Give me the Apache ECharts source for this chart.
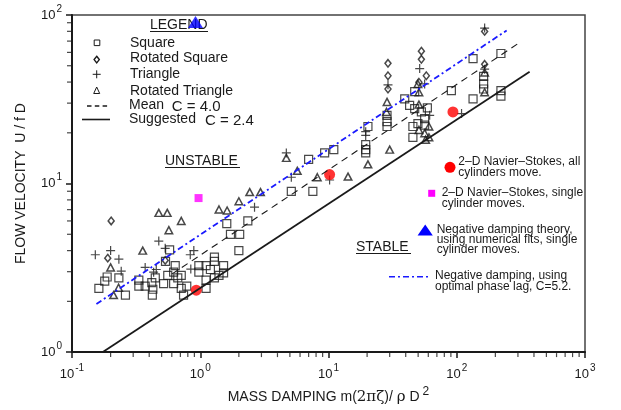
<!DOCTYPE html>
<html>
<head>
<meta charset="utf-8">
<title>Flow velocity vs mass damping</title>
<script src="https://cdn.jsdelivr.net/npm/echarts@6/dist/echarts.min.js"></script>
<style>
  html, body { margin: 0; padding: 0; background: #fff; }
  #main { width: 621px; height: 410px; }
</style>
</head>
<body>
<div id="main"></div>
<script>
// values (log-log)
var squareX = [0.162, 0.180, 0.188, 0.232, 0.261, 0.332, 0.332, 0.372, 0.419, 0.427, 0.423, 0.446, 0.518, 0.536, 0.558, 0.620,
  0.638, 0.620, 0.668, 0.711, 0.711, 0.741, 0.785, 0.577, 0.975, 0.975, 1.11, 1.11, 1.11, 1.20, 1.29, 1.29, 1.29, 1.40,
  1.52, 1.52, 1.61, 1.72, 2.03, 2.00, 2.35, 5.13, 7.55, 7.0, 9.33, 11.0, 20.3, 19.5, 19.5, 19.5, 28.6, 28.6, 28.6,
  39.3, 42.9, 47.0, 47.0, 59.0, 53.0, 56.2, 49.8, 45.5, 56.2, 45.5, 90.8, 134, 134, 162, 162, 162, 221, 221, 221];
var squareY = [2.39, 2.64, 2.79, 2.76, 2.18, 2.67, 2.46, 2.46, 2.58, 2.36, 2.18, 2.76, 2.55, 3.45, 2.85, 2.98,
  3.26, 2.55, 2.76, 2.85, 2.39, 2.18, 2.46, 4.04, 3.26, 2.98, 3.26, 2.67, 2.39, 3.09, 3.66, 3.45, 2.76, 2.85,
  3.26, 2.95, 5.78, 4.99, 4.99, 4.00, 6.00, 8.98, 8.98, 13.9, 15.2, 15.9, 21.8, 17.0, 15.9, 15.2, 25.4, 23.3, 21.8,
  31.8, 29.1, 27.8, 35.1, 28.1, 26.6, 24.3, 22.7, 21.8, 22.2, 18.8, 35.6, 55.1, 31.8, 43.2, 39.0, 36.4, 59.1, 35.6, 33.0];

var rotSquareX = [0.202, 0.190, 0.533, 29.1, 29.1, 29.1, 53.0, 53.0, 57.9, 50.7, 165, 165];
var rotSquareY = [6.00, 3.61, 3.50, 51.7, 43.6, 36.4, 61.0, 54.6, 43.6, 39.9, 79.9, 51.0];

var triangleX = [0.152, 0.200, 0.232, 0.475, 0.533, 0.372, 0.433, 0.242, 0.836, 0.891, 0.844, 0.454, 2.65, 4.69, 5.13,
  10.2, 19.5, 19.5, 29.1, 51.4, 56.2, 61.5, 109, 165, 165];
var triangleY = [3.78, 4.00, 3.56, 4.56, 4.13, 3.18, 2.98, 3.02, 3.78, 4.00, 3.11, 3.09, 7.24, 15.2, 10.9,
  10.5, 20.3, 19.3, 38.5, 48.1, 39.0, 25.4, 26.0, 83.6, 47.7];

var rotTriangleX = [0.475, 0.553, 0.711, 0.569, 0.356, 0.200, 0.231, 0.211, 1.40, 1.62, 2.00, 2.43, 2.95, 4.69, 5.71,
  8.18, 14.2, 20.3, 30.0, 28.6, 28.3, 50.7, 50.7, 60.7, 50.7, 56.2, 57.2, 60.7, 49.8, 165, 165];
var rotTriangleY = [6.70, 6.70, 6.00, 5.29, 4.00, 3.18, 2.41, 2.18, 7.02, 6.92, 7.85, 8.90, 8.90, 14.2, 11.9,
  10.9, 11.0, 13.0, 15.9, 30.5, 26.6, 34.8, 29.4, 21.8, 20.8, 19.9, 18.2, 18.8, 39.0, 34.8, 45.6];

var nsAllX = [0.931, 10.2, 93.4];
var nsAllY = [2.33, 11.3, 26.6];
var nsSingleX = [0.970];
var nsSingleY = [8.20];
var negTheoryX = [0.918];
var negTheoryY = [91.0];

// straight lines, end points
var meanX = [0.60, 309];
var meanY = [2.9, 68.6];
var suggestedX = [0.174, 370];
var suggestedY = [1.0, 46];
var optimalX = [0.155, 245];
var optimalY = [1.93, 81];

// log axis minor ticks
var minorSteps = [2, 3, 4, 5, 6, 7, 8, 9];
var xDecades = [0.1, 1, 10, 100];
var yDecades = [1, 10];

function pairs(xs, ys) {
  return xs.map(function (x, i) { return [x, ys[i]]; });
}

var xMinor = [];
xDecades.forEach(function (d) {
  minorSteps.forEach(function (m) { xMinor.push([+(d * m).toPrecision(3), 1]); });
});
var yMinor = [];
yDecades.forEach(function (d) {
  minorSteps.forEach(function (m) { yMinor.push([0.1, d * m]); });
});

var ink = '#1a1a1a';
var blue = '#1a1aff';
var narrow = '"Liberation Sans Narrow", "Arial Narrow", "Liberation Sans", sans-serif';
var hollow = { color: 'rgba(0,0,0,0)', borderColor: ink, borderWidth: 1.2 };

function powLabel(v) {
  var e = Math.round(Math.log(v) / Math.LN10);
  return '{b|10}{e|' + e + '}';
}
var powRich = {
  b: { fontSize: 13, lineHeight: 22, color: ink },
  e: { fontSize: 10, verticalAlign: 'top', color: ink, padding: [0, 0, 0, 1] }
};

function txt(x, y, s, font, extra) {
  var st = { text: s, font: font, fill: ink, verticalAlign: 'middle' };
  for (var k in extra) st[k] = extra[k];
  return { type: 'text', x: x, y: y, style: st };
}
function hline(x1, x2, y, stroke, w, dash) {
  return { type: 'line', shape: { x1: x1, y1: y, x2: x2, y2: y },
    style: { stroke: stroke, lineWidth: w, lineDash: dash || null } };
}

var f14 = '14px "Liberation Sans", Arial, sans-serif';
var f15 = '15px "Liberation Sans", Arial, sans-serif';
var f12n = '12px ' + narrow;

var graphics = [
  txt(150, 25, 'LEGEND', f14), hline(150, 208, 31.5, ink, 1),
  txt(165, 160.7, 'UNSTABLE', f14), hline(165, 240, 167.5, ink, 1),
  txt(356, 247, 'STABLE', f14), hline(356, 411, 253.5, ink, 1),
  // left legend
  { type: 'rect', shape: { x: 94.2, y: 40, width: 5.6, height: 5.6 }, style: { fill: 'none', stroke: ink, lineWidth: 1 } },
  { type: 'polygon', shape: { points: [[96.7, 56.3], [99.3, 59.6], [96.7, 62.9], [94.1, 59.6]] }, style: { fill: 'none', stroke: ink, lineWidth: 1.4 } },
  { type: 'line', shape: { x1: 92.7, y1: 74.3, x2: 100.7, y2: 74.3 }, style: { stroke: ink, lineWidth: 1 } },
  { type: 'line', shape: { x1: 96.7, y1: 70.3, x2: 96.7, y2: 78.3 }, style: { stroke: ink, lineWidth: 1 } },
  { type: 'polygon', shape: { points: [[96.7, 87], [99.7, 93.5], [93.7, 93.5]] }, style: { fill: 'none', stroke: ink, lineWidth: 1 } },
  hline(87, 108, 106, ink, 1.3, [4.5, 3.3]),
  hline(82, 110, 119.5, ink, 1.6),
  txt(130, 42.7, 'Square', f14),
  txt(130, 58.3, 'Rotated Square', f14),
  txt(130, 74.3, 'Triangle', f14),
  txt(130, 90.7, 'Rotated Triangle', f14),
  txt(129, 105.3, 'Mean', f14),
  txt(171.7, 107, 'C = 4.0', f15),
  txt(129, 119, 'Suggested', f14),
  txt(205, 121, 'C = 2.4', f15),
  // right annotations
  { type: 'circle', shape: { cx: 450, cy: 167.3, r: 5.5 }, style: { fill: '#ff0000' } },
  txt(458.3, 156.2, '2\u2013D Navier\u2013Stokes, all\ncylinders move.', f12n, { verticalAlign: 'top', lineHeight: 11 }),
  { type: 'rect', shape: { x: 428.2, y: 189.8, width: 7, height: 7 }, style: { fill: '#ff00ff' } },
  txt(441.7, 187.2, '2\u2013D Navier\u2013Stokes, single\ncylinder moves.', f12n, { verticalAlign: 'top', lineHeight: 11 }),
  { type: 'polygon', shape: { points: [[425.2, 224.5], [432.8, 235.5], [417.6, 235.5]] }, style: { fill: '#0000ff' } },
  txt(436.7, 225, 'Negative damping theory,\nusing numerical fits, single\ncylinder moves.', f12n, { verticalAlign: 'top', lineHeight: 9.8 }),
  hline(389, 428, 276.7, blue, 1.6, [6, 3, 2, 3]),
  txt(435, 270.5, 'Negative damping, using\noptimal phase lag, C=5.2.', f12n, { verticalAlign: 'top', lineHeight: 10.5 })
];

var chart = echarts.init(document.getElementById('main'));
chart.setOption({
  animation: false,
  backgroundColor: '#fff',
  textStyle: { fontFamily: '"Liberation Sans", Arial, sans-serif', color: ink },
  grid: { left: 72, top: 15, width: 513, height: 342, show: true, borderColor: '#444', borderWidth: 1.5 },
  xAxis: {
    type: 'log', logBase: 10, min: 0.1, max: 1000, splitNumber: 4,
    name: '{a|MASS DAMPING m(}{g|2\u03c0\u03b6}{a|)/ }{g|\u03c1}{a| D}{s|2}',
    nameLocation: 'middle', nameGap: 30,
    nameTextStyle: { rich: {
      a: { fontSize: 14, lineHeight: 24, color: ink },
      g: { fontSize: 15, lineHeight: 24, color: ink, fontFamily: '"DejaVu Serif", serif' },
      s: { fontSize: 12, verticalAlign: 'top', color: ink, padding: [0, 0, 0, 3] }
    } },
    axisLine: { lineStyle: { color: ink, width: 2 } },
    axisTick: { length: 6, lineStyle: { color: ink, width: 1.5 } },
    splitLine: { show: false },
    axisLabel: { margin: 11, formatter: powLabel, rich: powRich }
  },
  yAxis: {
    type: 'log', logBase: 10, min: 1, max: 100, splitNumber: 2,
    name: 'FLOW VELOCITY  U / f D', nameLocation: 'middle', nameGap: 44, nameRotate: 90,
    nameTextStyle: { fontSize: 14, color: ink },
    axisLine: { lineStyle: { color: ink, width: 2 } },
    axisTick: { length: 6, lineStyle: { color: ink, width: 1.5 } },
    splitLine: { show: false },
    axisLabel: { margin: 10, formatter: powLabel, rich: powRich }
  },
  graphic: graphics,
  series: [
    { name: 'x minor ticks', type: 'scatter', silent: true, clip: false, data: xMinor,
      symbol: 'rect', symbolSize: [1.2, 4], symbolOffset: [0, 3], itemStyle: { color: ink } },
    { name: 'y minor ticks', type: 'scatter', silent: true, clip: false, data: yMinor,
      symbol: 'rect', symbolSize: [4, 1.2], symbolOffset: [-3, 0], itemStyle: { color: ink } },
    { name: 'Mean C = 4.0', type: 'line', data: pairs(meanX, meanY), showSymbol: false,
      lineStyle: { color: ink, width: 1.1, type: [7, 5] } },
    { name: 'Suggested C = 2.4', type: 'line', data: pairs(suggestedX, suggestedY), showSymbol: false,
      lineStyle: { color: ink, width: 1.8 } },
    { name: 'Negative damping, optimal phase lag C=5.2', type: 'line', data: pairs(optimalX, optimalY), showSymbol: false,
      lineStyle: { color: blue, width: 1.8, type: [6, 3, 2, 3] } },
    { name: 'Square', type: 'scatter', data: pairs(squareX, squareY),
      symbol: 'rect', symbolSize: 8, itemStyle: hollow },
    { name: 'Rotated Square', type: 'scatter', data: pairs(rotSquareX, rotSquareY),
      symbol: 'diamond', symbolSize: [6, 7.5], itemStyle: { color: 'rgba(0,0,0,0)', borderColor: ink, borderWidth: 1.5 } },
    { name: 'Triangle', type: 'scatter', data: pairs(triangleX, triangleY),
      symbol: 'path://M5,0L5,10M0,5L10,5', symbolSize: 9, itemStyle: { color: 'rgba(0,0,0,0)', borderColor: ink, borderWidth: 1.2 } },
    { name: 'Rotated Triangle', type: 'scatter', data: pairs(rotTriangleX, rotTriangleY),
      symbol: 'triangle', symbolSize: [7.5, 7], itemStyle: { color: 'rgba(0,0,0,0)', borderColor: ink, borderWidth: 1.5 } },
    { name: '2-D Navier-Stokes, all cylinders move', type: 'scatter', data: pairs(nsAllX, nsAllY),
      symbol: 'circle', symbolSize: 11, itemStyle: { color: '#ff0000' } },
    { name: '2-D Navier-Stokes, single cylinder moves', type: 'scatter', data: pairs(nsSingleX, nsSingleY),
      symbol: 'rect', symbolSize: 8, itemStyle: { color: '#ff00ff' } },
    { name: 'Negative damping theory', type: 'scatter', data: pairs(negTheoryX, negTheoryY),
      symbol: 'triangle', symbolSize: [15, 12], itemStyle: { color: '#0000ff' } }
  ]
});
</script>
</body>
</html>
